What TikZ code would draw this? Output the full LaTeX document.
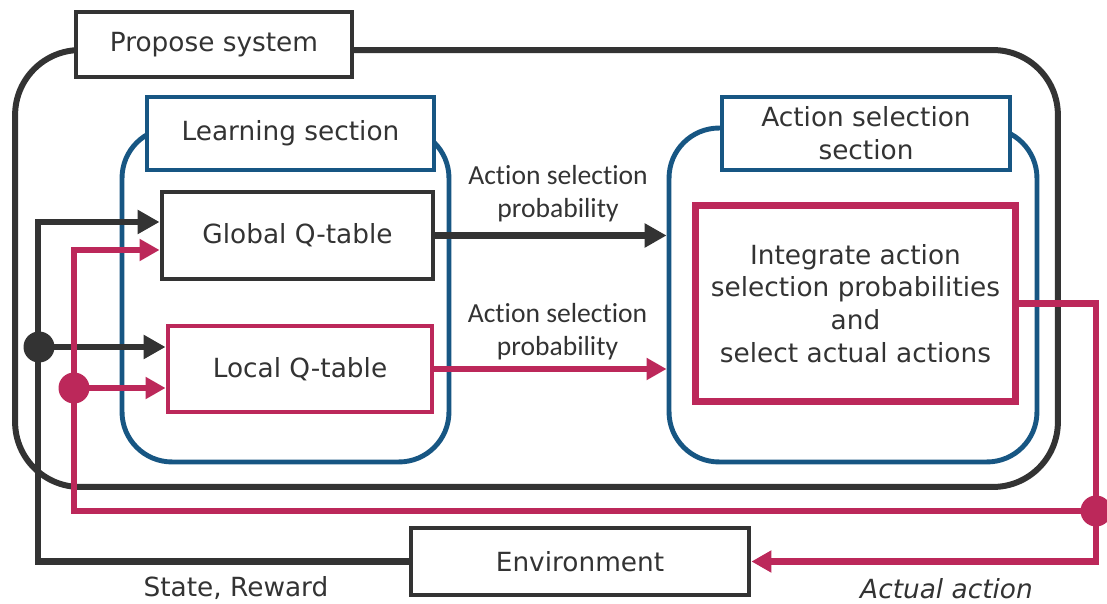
\documentclass[tikz,border=0pt]{standalone}
\usepackage{fontspec}
\setmainfont{DejaVu Sans}
\newfontfamily\labelfont[Ligatures=NoCommon]{Carlito}
\usetikzlibrary{positioning, calc, arrows.meta}
\definecolor{darkline}{HTML}{333333}
\definecolor{blueline}{HTML}{175683}
\definecolor{redline}{HTML}{BC285A}
\tikzstyle{DarkArrow} = [
%Create custom arrow styles:
line width = 3.6pt, draw = darkline,
-{Triangle[length=0.44cm, width=0.46cm]}
]
\tikzstyle{RedArrow} = [
line width = 3.6pt, draw = redline,
-{Triangle[length=0.4cm, width=0.42cm]}
]

\begin{document}
\begin{tikzpicture}[
				x = 0.02cm, y = -0.02cm,
				font = \fontsize{15}{18.7}\selectfont, text = darkline,
				outerbox/.style = {rectangle, draw = darkline, line width = 3.4pt, rounded corners = 1.3cm},
				sectionbox/.style = {rectangle, draw = blueline, line width = 2.8pt, rounded corners = 1cm},
				titlebox/.style = {rectangle, draw, fill = white, line width = 2.6pt, text centered, align = center},
				darkbox/.style = {rectangle, draw = darkline, line width = 2.8pt, text centered},
				redbox/.style = {rectangle, draw = redline, line width = 2.8pt, text centered, align = center},
				junction/.style = {circle, inner sep = 0pt, minimum size = 0.62cm},
				problabel/.style = {font = \labelfont\fontsize{15.7}{18.8}\selectfont, align = center},
			]
			\useasboundingbox (0,0) rectangle (1107,604);

			% sections
			\node[outerbox, minimum width = 20.86cm, minimum height = 8.74cm](system) at (536.5,268.5){};
			\node[sectionbox, minimum width = 6.54cm, minimum height = 6.68cm](learning) at (285.5,295){};
			\node[sectionbox, minimum width = 7.36cm, minimum height = 6.68cm](selection) at (853,295){};
			\node[titlebox, draw = darkline, minimum width = 5.52cm, minimum height = 1.3cm](systemtitle) at (214,44.5){Propose system};
			\node[titlebox, draw = blueline, minimum width = 5.74cm, minimum height = 1.46cm](learningtitle) at (290.5,133.5){Learning section};
			\node[titlebox, draw = blueline, minimum width = 5.76cm, minimum height = 1.46cm](selectiontitle) at (866,133.5){Action selection\\section};

			% blocks
			\node[darkbox, minimum width = 5.42cm, minimum height = 1.74cm](global) at (297.5,235.5){Global Q-table};
			\node[redbox, minimum width = 5.28cm, minimum height = 1.72cm](local) at (300,369){Local Q-table};
			\node[redbox, line width = 4pt, minimum width = 6.42cm, minimum height = 3.94cm](integrate) at (855.5,303.5){Integrate action\\selection probabilities\\and\\select actual actions};
			\node[darkbox, minimum width = 6.76cm, minimum height = 1.34cm](environment) at (580,561.5){Environment};

			\node[junction, fill = darkline](darkjoint) at (39,347){};
			\node[junction, fill = redline](redjoint) at (74,388){};
			\node[junction, fill = redline](outjoint) at (1096,511){};
			\coordinate (darktop) at (38,222);
			\coordinate (redtop) at (74,250);

			\draw[DarkArrow](global.east)--node[midway, above, problabel, xshift = 0.14cm, yshift = 0.1cm]{Action selection\\probability}(global.east -| selection.west);
			\draw[RedArrow](local.east)--node[midway, above, problabel, xshift = 0.14cm]{Action selection\\probability}(local.east -| selection.west);

			\draw[DarkArrow](environment.west)-|(darktop)--(darktop -| global.west);
			\draw[DarkArrow](darkjoint.center)--(darkjoint -| local.west);
			\draw[RedArrow](integrate.east)-|(outjoint.center)|-(environment.east);
			\draw[RedArrow](outjoint.center)-|(redtop)--(redtop -| global.west);
			\draw[RedArrow](redjoint.center)--(redjoint -| local.west);

			\node(statelabel) at (236,588){State, Reward};
			\node[font = \fontsize{15}{18.7}\selectfont\itshape](actionlabel) at (946.5,589){Actual action};

		\end{tikzpicture}
\end{document}
